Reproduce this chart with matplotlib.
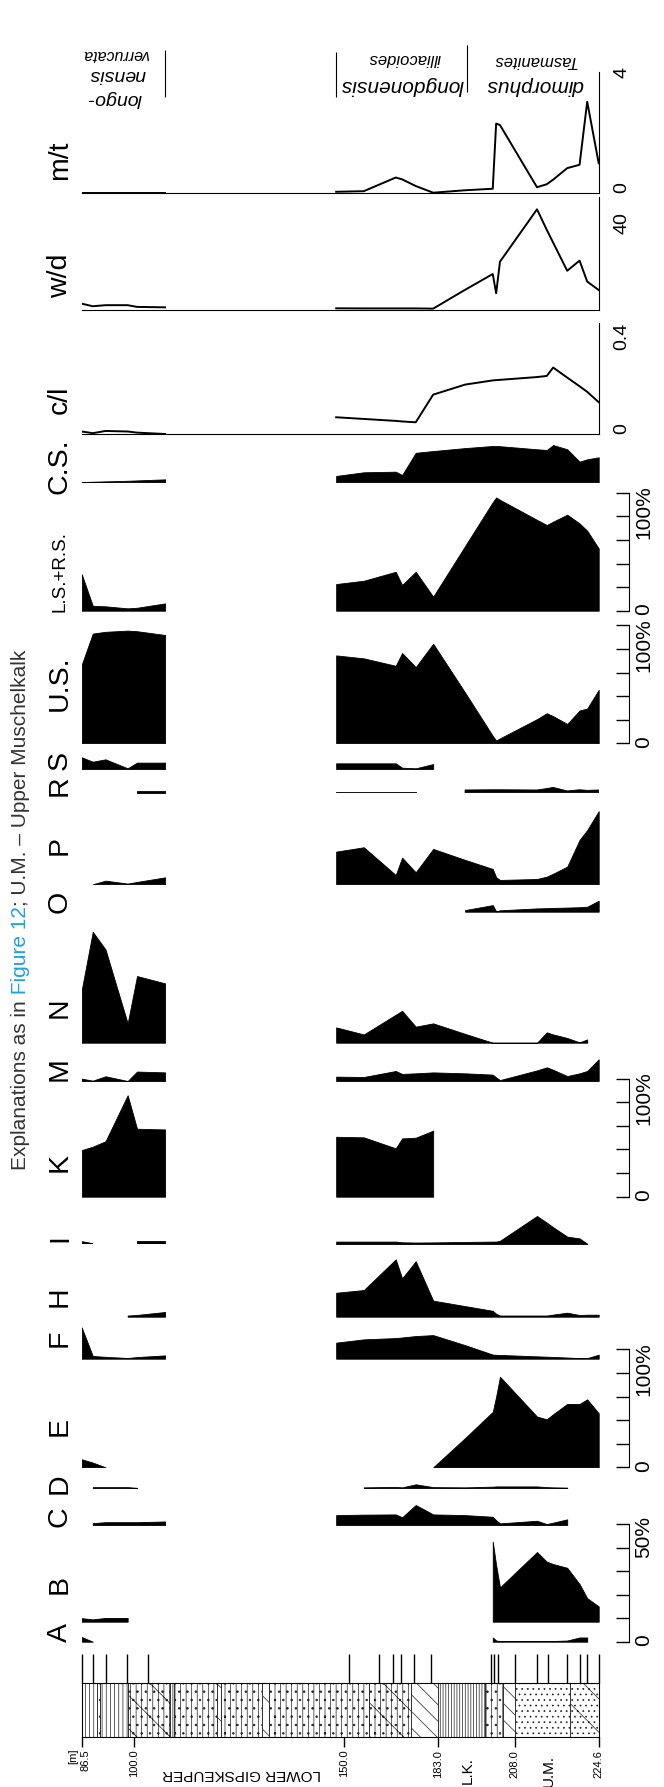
import numpy as np
import matplotlib
matplotlib.use("Agg")
from matplotlib import pyplot as plt
from matplotlib.patches import Rectangle
from matplotlib.transforms import ScaledTranslation

nan = np.nan

# sample positions along the section (plotted depth scale), lower and upper group
pos_low = [192, 218, 248, 300, 322, 388]
pos_up = [790, 855, 930, 945, 977, 1018, 1093, 1158, 1166, 1175, 1262, 1285, 1300, 1333, 1362, 1380, 1407]

# depth scale of the section
depth_pos = [192, 316, 808, 1030, 1210, 1407]
depth_labels = ["86.5", "100.0", "150.0", "183.0", "208.0", "224.6"]
sample_marks = [192, 218, 250, 298, 348, 821, 891, 924, 942, 973, 1014,
                1155, 1162, 1170, 1210, 1262, 1288, 1333, 1362, 1380, 1407]

# lithology units (boundaries and fill pattern)
litho_edges = [192, 228, 236, 300, 400, 410, 510, 520, 615, 632, 868, 965, 1030, 1140, 1183, 1210, 1340, 1407]
litho_hatch = ["||||", "..", "||||", "\\|||..", "||||", "|||..", "\\", "|||..", "\\", "|||..", "\\|||..",
               "\\\\", "||||||", "|||..", "\\\\", "...", "\\..."]

# percentages (A-D on 0-50 % scale, the rest on 0-100 %)
A_low = [2.0, 0.0, nan, nan, nan, nan]
A_up = [nan, nan, nan, nan, nan, nan, nan, 1.8, 0.5, 0.3, 0.3, 0.3, 0.3, 0.5, 1.8, 1.8, nan]
B_low = [1.5, 1.0, 1.6, 1.6, nan, nan]
B_up = [nan, nan, nan, nan, nan, nan, nan, 34, 24, 14.6, 29.6, 25.5, 24.5, 22.9, 16, 10, 6.5]
C_low = [nan, 0.8, 1.2, 1.2, 1.2, 1.5]
C_up = [4.2, 4.4, 4.5, 3.3, 8.5, 4.5, 4.2, 3.5, 2.0, 0.7, 1.8, 0.4, 1.0, 2.4, nan, nan, nan]
D_low = [nan, 0.5, 0.5, 0.5, 0.2, nan]
D_up = [nan, 0.4, 0.6, 0.4, 1.7, 0.5, 0.4, 0.7, 0.8, 0.8, 0.8, 0.5, 0.4, 0.3, nan, nan, nan]
E_low = [6.8, 4.0, 0.0, nan, nan, nan]
E_up = [nan, nan, nan, nan, nan, 0, 24.8, 47, 60, 76.8, 43, 40.7, 45, 53.7, 53.7, 57.6, 45.8]
F_low = [26.5, 2.3, 1.6, 0.6, 1.4, 2.8]
F_up = [13.6, 16.4, 17.5, 18, 19.2, 20, 11.5, 3.5, 3.3, 3.2, 2.0, 1.7, 1.5, 1.0, 0.5, 0.5, 3.4]
H_low = [nan, nan, nan, 1.0, 1.5, 4.0]
H_up = [20.3, 22.6, 48.6, 32.5, 47, 13.6, 9, 5, 2.5, 1, 1, 1, 1.8, 3.4, 1.4, 1.7, 1.7]
I_low = [2.3, 0.6, nan, nan, 3.0, 3.0]
I_up = [2.3, 2.3, 2.3, 1.7, 1.5, 1.6, 2.0, 2.3, 2.3, 3.0, 24, 18.4, 14.5, 6.5, 5.0, 0.5, nan]
K_low = [39.5, 42.4, 47, 86, 57.6, 57]
K_up = [50.8, 50.3, 41, 49.4, 50, 56, nan, nan, nan, nan, nan, nan, nan, nan, nan, nan, nan]
M_low = [2.0, 0.3, 4.0, 0.0, 8.0, 7.3]
M_up = [3.7, 3.4, 8.5, 6.0, 6.5, 7.3, 6.5, 5.4, 3.0, 0.8, 9.0, 11.6, 9.5, 4.2, 6.5, 8.5, 18.4]
N_low = [44.6, 94, 79, 16.4, 56.5, 50.3]
N_up = [13, 7, 23.7, 27, 13.6, 16.4, 7.5, 0, 0, 0, 0, 8.8, 7.0, 4.0, 0.3, 2.8, nan]
O_low = [nan, nan, nan, nan, nan, nan]
O_up = [nan, nan, nan, nan, nan, nan, 1.4, 5.6, 0.3, 1.2, 2.8, 3.0, 3.2, 3.5, 3.8, 4.2, 9.3]
P_low = [nan, 0.0, 3.1, 0.6, 2.0, 5.9]
P_up = [27.7, 31.4, 7.9, 22.6, 10.2, 30, 20.7, 13, 6.0, 3.7, 4.5, 6.5, 9.0, 15, 37.6, 46, 62]
R_low = [nan, nan, nan, nan, 1.8, 1.8]
R_up = [0.8, 0.8, 0.8, 0.8, 0.8, nan, 2.3, 2.5, 2.5, 2.5, 2.3, 3.5, 4.5, 1.5, 2.5, 2.0, 2.3]
S_low = [9.9, 6.2, 8.2, 0.6, 5.4, 5.4]
S_up = [4.8, 4.8, 4.8, 1.1, 0.6, 4.2, nan, nan, nan, nan, nan, nan, nan, nan, nan, nan, nan]
US_low = [66.6, 93, 94.5, 95.5, 95, 91.8]
US_up = [74.5, 72, 65.7, 76.5, 64.6, 84.4, 43, 6.3, 2.3, 4.2, 20.5, 25.5, 23, 16.4, 27.8, 29.5, 45.3]
LSRS_low = [31, 4.2, 3.7, 2.0, 2.5, 6.2]
LSRS_up = [22.6, 25.4, 33, 21.8, 33, 11.9, 54.8, 92, 96, 94, 77, 72.6, 75.5, 81.4, 74, 67.8, 52.8]
CS_low = [0.2, 0.5, 0.8, 1.3, 1.6, 2.5]
CS_up = [5.4, 8.5, 9.0, 6.2, 25, 26.5, 29, 30.8, 30.8, 30.6, 28, 27.4, 31.6, 28, 17.5, 19.5, 21.2]

# ratios
cl_low = [0.010, 0.004, 0.012, 0.010, 0.006, 0.001]
cl_up = [0.061, 0.055, 0.048, 0.046, 0.043, 0.142, 0.178, 0.193, 0.194, 0.195, 0.205, 0.209,
         0.239, 0.203, 0.172, 0.152, 0.115]
wd_low = [2.7, 1.5, 2.0, 2.0, 1.2, 1.0]
wd_up = [0.55, 0.5, 0.5, 0.5, 0.5, 0.4, 9.1, 16.4, 7.5, 22.1, 46.3, 36.8, 30.9, 17.9, 22.6, 12.9, 9.0]
mt_low = [0.02, 0.02, 0.02, 0.02, 0.02, 0.02]
mt_up = [0.05, 0.07, 0.52, 0.46, 0.24, 0.02, 0.1, 0.15, 2.3, 2.25, 0.2, 0.3, 0.45, 0.83, 0.94, 3.02, 0.99]

plt.rcParams["font.family"] = ["Liberation Sans", "DejaVu Sans"]
plt.rcParams["hatch.linewidth"] = 0.5

W, H = 664, 1787
X0, X1 = 81.7, 598.7
PCT = 1.18      # px per percent
PCT_AB = 2.354  # px per percent, A-D

fig = plt.figure(figsize=(W / 100, H / 100), dpi=100)


def px_axes(x0, x1, top, bottom):
    ax = fig.add_axes([x0 / W, 1 - bottom / H, (x1 - x0) / W, (bottom - top) / H])
    ax.patch.set_alpha(0)
    return ax


def fig_text(x, y, s, **kw):
    return fig.text(x / W, 1 - y / H, s, **kw)


def area_panel(low, up, base, ppu, ymax):
    ax = px_axes(X0, X1, base - ymax * ppu, base)
    ax.set_xlim(192, 1407)
    ax.set_ylim(0, ymax)
    ax.set_axis_off()
    for pos, vals in ((pos_low, low), (pos_up, up)):
        ax.fill_between(pos, 0, np.asarray(vals, float), facecolor="black",
                        edgecolor="black", linewidth=0.6)
    return ax


def scale_bar(base, ppu, top_val, step, top_label):
    ax = px_axes(590, 629, base - top_val * ppu, base)
    ax.set_ylim(0, top_val)
    for s in ("left", "top", "bottom"):
        ax.spines[s].set_visible(False)
    ax.set_xticks([])
    ax.yaxis.tick_right()
    ticks = np.arange(0, top_val + 1, step)
    ax.set_yticks(ticks)
    ax.set_yticklabels(["0"] + [""] * (len(ticks) - 2) + [top_label])
    ax.tick_params(axis="y", direction="in", length=9.4, width=1.0, pad=4,
                   labelsize=15, labelrotation=90)


def line_panel(low, up, base, height, ymax, labels):
    ax = px_axes(X0, X1, base - height, base)
    ax.set_xlim(192, 1407)
    ax.set_ylim(0, ymax)
    for s in ("left", "top"):
        ax.spines[s].set_visible(False)
    ax.set_xticks([])
    ax.set_yticks([])
    ax.plot(pos_low, low, color="black", lw=1.4)
    ax.plot(pos_up, up, color="black", lw=1.4)
    for val, txt, va in labels:
        ax.text(1.045, val, txt, transform=ax.get_yaxis_transform(), rotation=90,
                ha="center", va=va, fontsize=14)
    return ax


# area panels: (label, low, up, baseline px, px per unit, label y px)
panels = [
    ("A", A_low, A_up, 1641.7, PCT_AB, 50, 1633),
    ("B", B_low, B_up, 1621.7, PCT_AB, 50, 1585),
    ("C", C_low, C_up, 1525.0, PCT_AB, 50, 1517),
    ("D", D_low, D_up, 1488.3, PCT_AB, 50, 1484),
    ("E", E_low, E_up, 1467.3, PCT, 100, 1426),
    ("F", F_low, F_up, 1358.7, PCT, 100, 1338),
    ("H", H_low, H_up, 1316.7, PCT, 100, 1297),
    ("I", I_low, I_up, 1244.3, PCT, 100, 1238),
    ("K", K_low, K_up, 1196.7, PCT, 100, 1162),
    ("M", M_low, M_up, 1081.0, PCT, 100, 1069),
    ("N", N_low, N_up, 1042.7, PCT, 100, 1008),
    ("O", O_low, O_up, 911.7, PCT, 100, 902),
    ("P", P_low, P_up, 884.3, PCT, 100, 845),
    ("R", R_low, R_up, 792.7, PCT, 100, 786),
    ("S", S_low, S_up, 769.0, PCT, 100, 760),
    ("U.S.", US_low, US_up, 743.3, PCT, 100, 683),
    ("L.S.+R.S.", LSRS_low, LSRS_up, 610.7, PCT, 100, 571),
    ("C.S.", CS_low, CS_up, 482.3, PCT, 100, 466),
]
for label, low, up, base, ppu, ymax, ly in panels:
    area_panel(low, up, base, ppu, ymax)
    fs = 13.5 if label == "L.S.+R.S." else 20.5
    fig_text(60, ly, label, rotation=90, ha="center", va="center", fontsize=fs)

scale_bar(1641.7, PCT_AB, 50, 10, "50%")
scale_bar(1467.3, PCT, 100, 20, "100%")
scale_bar(1196.7, PCT, 100, 20, "100%")
scale_bar(743.3, PCT, 100, 20, "100%")
scale_bar(610.7, PCT, 100, 20, "100%")

line_panel(cl_low, cl_up, 434.3, 111.7, 0.4, [(0, "0", "bottom"), (0.4, "0.4", "top")])
line_panel(wd_low, wd_up, 309.5, 112.5, 52, [(40, "40", "center")])
line_panel(mt_low, mt_up, 193.3, 121.3, 4, [(0, "0", "bottom"), (4, "4", "center")])
fig_text(60, 400, "c/l", rotation=90, ha="center", va="center", fontsize=20.5)
fig_text(60, 276, "w/d", rotation=90, ha="center", va="center", fontsize=20.5)
fig_text(60, 160, "m/t", rotation=90, ha="center", va="center", fontsize=20.5)

# lithological column
lith = px_axes(X0, X1, 1682.7, 1737.3)
lith.set_xlim(192, 1407)
lith.set_ylim(0, 1)
for a, b, h in zip(litho_edges[:-1], litho_edges[1:], litho_hatch):
    lith.add_patch(Rectangle((a, 0), b - a, 1, facecolor="white", edgecolor="#222222",
                             hatch=h, linewidth=0.6))
lith.vlines(sample_marks, 1, 1.53, color="black", lw=1.0, clip_on=False)
lith.set_yticks([])
lith.set_xticks(depth_pos)
lith.set_xticklabels(depth_labels, rotation=90, fontsize=8)
lith.tick_params(axis="x", direction="out", length=7, width=1, pad=2)
first = lith.get_xticklabels()[0]
first.set_transform(first.get_transform() + ScaledTranslation(4 / 100, 0, fig.dpi_scale_trans))
for s in lith.spines.values():
    s.set_linewidth(0.8)
fig_text(73, 1756, "[m]", rotation=90, ha="center", va="center", fontsize=8)
fig_text(242, 1774, "LOWER GIPSKEUPER", rotation=180, ha="center", va="center", fontsize=11)
fig_text(468, 1771, "L.K.", rotation=90, ha="center", va="center", fontsize=11)
fig_text(549, 1771, "U.M.", rotation=90, ha="center", va="center", fontsize=11)

# zone names at top
ann = px_axes(X0, X1, 40, 110)
ann.set_xlim(192, 1407)
ann.set_ylim(110, 40)
ann.set_axis_off()
ann.vlines([388, 790, 1097], [50, 52, 45], [97, 97, 92], color="black", lw=0.8)
ann.text(272, 55, "verrucata", rotation=180, ha="center", va="center", fontsize=11.5, style="italic")
ann.text(277, 75, "nensis", rotation=180, ha="center", va="center", fontsize=14, style="italic")
ann.text(270, 98, "longo-", rotation=180, ha="center", va="center", fontsize=14, style="italic")
ann.text(950, 59, "illiacoides", rotation=180, ha="center", va="center", fontsize=12, style="italic")
ann.text(945, 86, "longdonensis", rotation=180, ha="center", va="center", fontsize=15, style="italic")
ann.text(1255, 61, "Tasmanites", rotation=180, ha="center", va="center", fontsize=12, style="italic")
ann.text(1255, 85, "dimorphus", rotation=180, ha="center", va="center", fontsize=15, style="italic")

# rotated caption with a coloured cross-reference
renderer = fig.canvas.get_renderer()
y = 1170
for piece, col in (("Explanations as in", "#333333"), (" Figure 12", "#1ba1e2"),
                   ("; U.M. \u2013 Upper Muschelkalk", "#333333")):
    t = fig_text(21, y, piece, rotation=90, rotation_mode="anchor", ha="left",
                 va="center", fontsize=15, color=col)
    y -= t.get_window_extent(renderer).height

fig.savefig("out.png", dpi=100)
